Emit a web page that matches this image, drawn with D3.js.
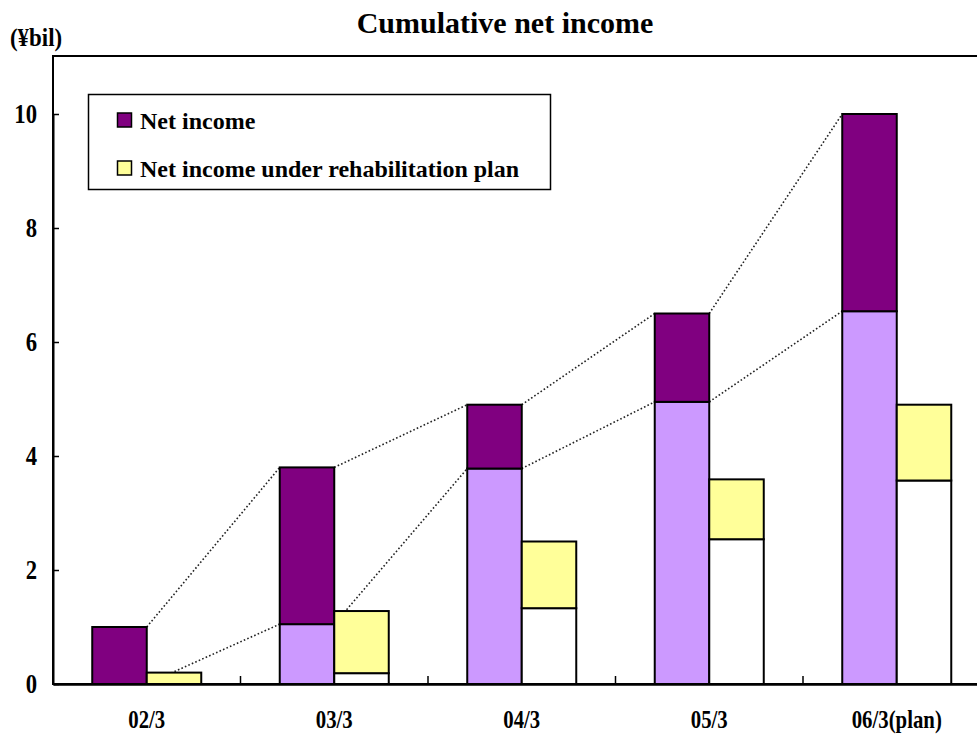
<!DOCTYPE html>
<html>
<head>
<meta charset="utf-8">
<script src="https://cdn.jsdelivr.net/npm/d3@7"></script>
<style>
  html, body { margin: 0; padding: 0; background: #fff; }
  svg { display: block; }
  svg text { font-family: "Liberation Serif", Tinos, "Times New Roman", Times, "DejaVu Serif", serif !important; font-weight: bold; fill: #000; }
</style>
</head>
<body>
<svg id="chart" width="977" height="734"></svg>
<script>
// Fiscal year-ends (¥ billions)
const categories = ["02/3", "03/3", "04/3", "05/3", "06/3(plan)"];

// Actual: cumulative total carried from prior years + net income of the year
const priorCumulative = [0, 1.05, 3.78, 4.95, 6.54];
const netIncome       = [1.0, 2.75, 1.12, 1.55, 3.46];

// Rehabilitation plan: cumulative carried + planned net income of the year
const planPriorCumulative = [0, 0.19, 1.33, 2.54, 3.57];
const planNetIncome       = [0.2, 1.09, 1.17, 1.05, 1.33];

const yTicks = [0, 2, 4, 6, 8, 10];
const legendLabels = ["Net income", "Net income under rehabilitation plan"];

const colors = {
  prior: "#CC99FF",
  net: "#800080",
  planPrior: "#FFFFFF",
  planNet: "#FFFF99"
};

const svg = d3.select("#chart");

const plot = { left: 53, right: 990.5, top: 56, bottom: 684 };

// Narrow the glyphs of a text to a fraction of their natural width
function condense(sel, factor) {
  sel.each(function () {
    const w = this.getComputedTextLength();
    d3.select(this)
      .attr("textLength", w * factor)
      .attr("lengthAdjust", "spacingAndGlyphs");
  });
}

const x = d3.scaleBand()
  .domain(categories)
  .range([plot.left, plot.right])
  .padding(0);

const xInner = d3.scaleBand()
  .domain(["actual", "plan"])
  .range([0, x.bandwidth()])
  .paddingInner(0)
  .paddingOuter(0.72);

const y = d3.scaleLinear()
  .domain([0, 10])
  .range([plot.bottom, 114]);

// Stacked layouts for both groups
const rows = categories.map((c, i) => ({
  cat: c,
  prior: priorCumulative[i],
  net: netIncome[i],
  planPrior: planPriorCumulative[i],
  planNet: planNetIncome[i]
}));

const actualStack = d3.stack().keys(["prior", "net"])(rows);
const planStack = d3.stack().keys(["planPrior", "planNet"])(rows);

// Plot frame (extends past the right edge)
svg.append("rect")
  .attr("x", plot.left)
  .attr("y", plot.top)
  .attr("width", plot.right - plot.left)
  .attr("height", plot.bottom - plot.top)
  .attr("fill", "none")
  .attr("stroke", "#000")
  .attr("stroke-width", 2);

// Series lines joining the tops of the actual stacks
const lineGroup = svg.append("g");
actualStack.forEach(series => {
  for (let i = 0; i < series.length - 1; i++) {
    const x1 = x(categories[i]) + xInner("actual") + xInner.bandwidth();
    const x2 = x(categories[i + 1]) + xInner("actual");
    lineGroup.append("line")
      .attr("x1", x1).attr("y1", y(series[i][1]))
      .attr("x2", x2).attr("y2", y(series[i + 1][1]))
      .attr("stroke", "#222")
      .attr("stroke-width", 1.6)
      .attr("stroke-dasharray", "1.6,2.2");
  }
});

function drawStack(stack, group) {
  const g = svg.append("g");
  stack.forEach(series => {
    g.selectAll(null)
      .data(series.filter(d => d[1] - d[0] > 0))
      .join("rect")
      .attr("x", d => x(d.data.cat) + xInner(group))
      .attr("width", xInner.bandwidth())
      .attr("y", d => y(d[1]))
      .attr("height", d => y(d[0]) - y(d[1]))
      .attr("fill", colors[series.key])
      .attr("stroke", "#000")
      .attr("stroke-width", 2);
  });
}
drawStack(actualStack, "actual");
drawStack(planStack, "plan");

// Y axis
const yAxis = d3.axisLeft(y)
  .tickValues(yTicks)
  .tickFormat(d3.format("d"))
  .tickSizeInner(-6)
  .tickSizeOuter(0)
  .tickPadding(16);
const gy = svg.append("g")
  .attr("transform", `translate(${plot.left},0)`)
  .call(yAxis)
  .attr("font-family", null);
gy.select(".domain").attr("stroke", "#000").attr("stroke-width", 2);
gy.selectAll(".tick line").attr("stroke", "#000").attr("stroke-width", 1.5);
gy.selectAll(".tick text")
  .attr("font-size", 27)
  .attr("dy", "0.3em")
  .attr("fill", "#000")
  .call(condense, 0.84);

// X axis: labels centred on categories, tick marks on category boundaries
const xAxis = d3.axisBottom(x).tickSize(0).tickPadding(0);
const gx = svg.append("g")
  .attr("transform", `translate(0,${plot.bottom})`)
  .call(xAxis)
  .attr("font-family", null);
gx.select(".domain").attr("stroke", "#000").attr("stroke-width", 2.5);
gx.selectAll(".tick text")
  .attr("y", 44)
  .attr("dy", null)
  .attr("font-size", 26)
  .attr("fill", "#000")
  .call(condense, 0.8);

svg.append("g")
  .selectAll("line")
  .data(categories.slice(1))
  .join("line")
  .attr("x1", d => x(d)).attr("x2", d => x(d))
  .attr("y1", plot.bottom).attr("y2", plot.bottom - 8)
  .attr("stroke", "#000")
  .attr("stroke-width", 1.5);

// Title and unit
svg.append("text")
  .attr("x", 505).attr("y", 33)
  .attr("text-anchor", "middle")
  .attr("font-size", 30)
  .text("Cumulative net income");

svg.append("text")
  .attr("x", 10).attr("y", 46)
  .attr("font-size", 26)
  .text("(¥bil)")
  .call(condense, 0.88);

// Legend
const legend = svg.append("g");
legend.append("rect")
  .attr("x", 88.5).attr("y", 94.5)
  .attr("width", 462).attr("height", 95)
  .attr("fill", "#fff")
  .attr("stroke", "#000")
  .attr("stroke-width", 1.5);

const legendColors = [colors.net, colors.planNet];
legendLabels.forEach((label, i) => {
  const yy = 113 + i * 48;
  legend.append("rect")
    .attr("x", 117.5).attr("y", yy)
    .attr("width", 14).attr("height", 14)
    .attr("fill", legendColors[i])
    .attr("stroke", "#000")
    .attr("stroke-width", 1.5);
  legend.append("text")
    .attr("x", 140).attr("y", yy + 16)
    .attr("font-size", 24)
    .text(label);
});
</script>
</body>
</html>
